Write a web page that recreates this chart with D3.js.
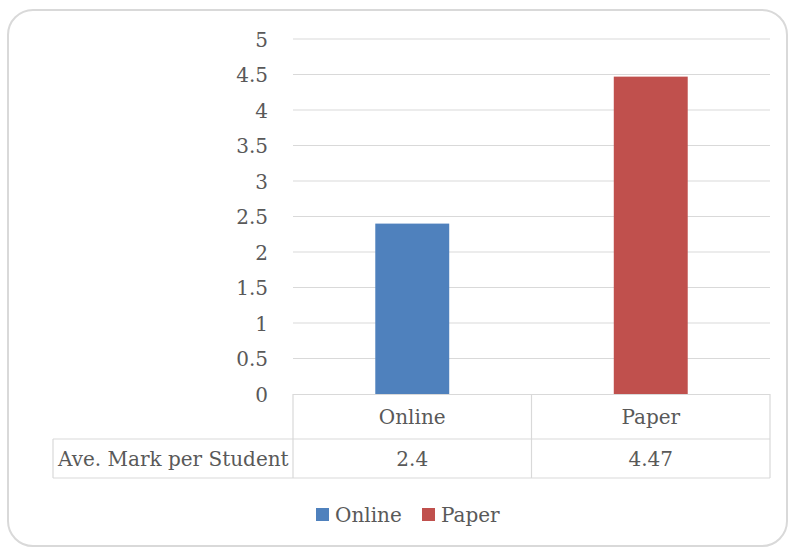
<!DOCTYPE html>
<html><head><meta charset="utf-8">
<script src="https://cdn.jsdelivr.net/npm/d3@7"></script>
<style>body{margin:0;background:#fff}svg{display:block}text{font-family:"DejaVu Serif",serif;fill:#595959}</style>
</head><body>
<svg id="c" width="789" height="548"></svg>
<script>
const categories = ["Online", "Paper"];
const values = [2.4, 4.47];
const valueLabels = ["2.4", "4.47"];
const colors = ["#4f81bd", "#c0504d"];
const yTicks = [0, 0.5, 1, 1.5, 2, 2.5, 3, 3.5, 4, 4.5, 5];
const rowLabel = "Ave. Mark per Student";

const svg = d3.select("#c");
const fs = 20;
svg.append("rect").attr("x",8).attr("y",10).attr("width",779).attr("height",536)
  .attr("rx",25).attr("fill","#fff").attr("stroke","#d9d9d9").attr("stroke-width",2);

const x = d3.scaleBand().domain(categories).range([293,770]).paddingInner(0.69).paddingOuter(0.345);
const xc = d3.scaleBand().domain(categories).range([293,770]);
const y = d3.scaleLinear().domain([0,5]).range([394,39]);

const grid = svg.append("g");
grid.selectAll("line").data(yTicks.filter(t=>t>0)).join("line")
  .attr("x1",293).attr("x2",770).attr("y1",d=>y(d)).attr("y2",d=>y(d))
  .attr("stroke","#d9d9d9").attr("stroke-width",1.2);

const yAxis = d3.axisLeft(y).tickValues(yTicks).tickSize(0).tickPadding(0).tickFormat(d3.format("~g"));
const ya = svg.append("g").attr("transform","translate(268,0)").call(yAxis);
ya.select(".domain").remove();
ya.selectAll("text").attr("font-size",fs).attr("font-family","DejaVu Serif").attr("fill","#595959").attr("dy","0.35em");

svg.append("g").selectAll("rect").data(categories).join("rect")
  .attr("x",d=>x(d)).attr("width",x.bandwidth())
  .attr("y",(d,i)=>y(values[i])).attr("height",(d,i)=>y(0)-y(values[i]))
  .attr("fill",(d,i)=>colors[i]);

// table
const tc = "#d9d9d9";
const t = svg.append("g").attr("stroke",tc).attr("stroke-width",1.2).attr("fill","none");
t.append("line").attr("x1",293).attr("x2",770).attr("y1",394.5).attr("y2",394.5);
t.append("line").attr("x1",53).attr("x2",770).attr("y1",439).attr("y2",439);
t.append("line").attr("x1",53).attr("x2",770).attr("y1",478).attr("y2",478);
t.append("line").attr("x1",53).attr("x2",53).attr("y1",439).attr("y2",478);
[293, 531.5, 770].forEach(v=>t.append("line").attr("x1",v).attr("x2",v).attr("y1",394).attr("y2",478));

svg.append("g").selectAll("text").data(categories).join("text")
  .attr("x",d=>xc(d)+xc.bandwidth()/2).attr("y",417).attr("dy","0.35em")
  .attr("text-anchor","middle").attr("font-size",fs).text(d=>d);
svg.append("g").selectAll("text").data(valueLabels).join("text")
  .attr("x",(d,i)=>xc(categories[i])+xc.bandwidth()/2).attr("y",459).attr("dy","0.35em")
  .attr("text-anchor","middle").attr("font-size",fs).text(d=>d);
svg.append("text").attr("x",58).attr("y",459).attr("dy","0.35em").attr("font-size",fs).text(rowLabel);

// legend
const lg = svg.append("g");
const lx = [316, 422];
categories.forEach((c,i)=>{
  lg.append("rect").attr("x",lx[i]).attr("y",508).attr("width",13).attr("height",13).attr("fill",colors[i]);
  lg.append("text").attr("x",lx[i]+19).attr("y",515).attr("dy","0.35em").attr("font-size",fs).text(c);
});
</script>
</body></html>
